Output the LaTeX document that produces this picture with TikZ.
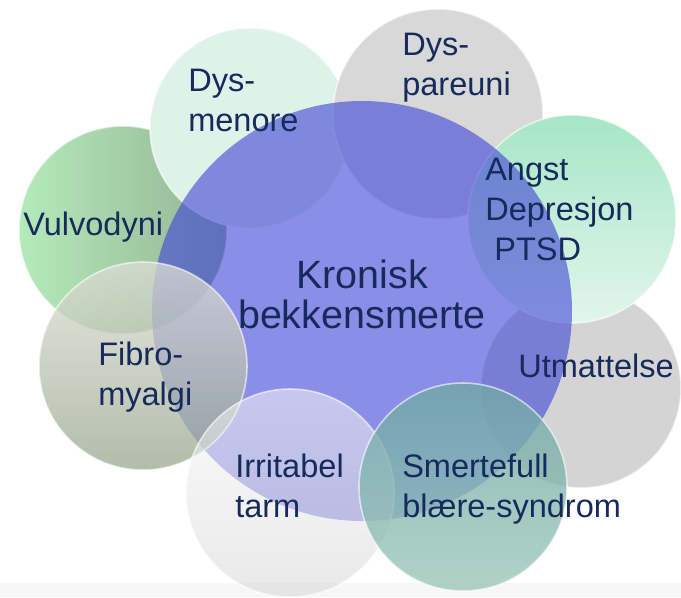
\documentclass[tikz,border=0pt]{standalone}
\usepackage{fontspec}
\setmainfont{Liberation Sans}

\definecolor{navy}{RGB}{22,42,92}
\definecolor{kroniskblue}{RGB}{62,67,213}
\definecolor{vulvoA}{RGB}{180,234,186}
\definecolor{vulvoB}{RGB}{148,180,148}
\definecolor{mint}{RGB}{222,242,234}
\definecolor{lightgrey}{RGB}{216,216,216}
\definecolor{angstA}{RGB}{166,230,198}
\definecolor{angstB}{RGB}{226,246,236}
\definecolor{fibroA}{RGB}{222,222,212}
\definecolor{fibroB}{RGB}{152,166,142}
\definecolor{irriA}{RGB}{248,248,248}
\definecolor{irriB}{RGB}{214,214,214}
\definecolor{smerteA}{RGB}{112,168,168}
\definecolor{smerteB}{RGB}{156,199,184}
\definecolor{strip}{RGB}{247,247,247}

\tikzset{
  rim/.style={draw=white, draw opacity=0.6, line width=1.2},
  sidetext/.style={anchor=base west, align=left, inner sep=0pt, text=navy,
    font=\fontsize{24.4}{30}\selectfont},
  maintext/.style={anchor=base, align=center, inner sep=0pt, text=navy,
    font=\fontsize{29.6}{30}\selectfont}
}

\begin{document}
\begin{tikzpicture}[x=0.75pt,y=-0.75pt]
%\draw [lightgray, ultra thin] (0,0) grid [step=50] (681,597);
\useasboundingbox (0,0) rectangle (681,597);

\fill [strip] (0,583) rectangle (681,597);

% outer circles below the centre
\shade [left color=vulvoA, right color=vulvoB, rim] (123,230) circle [radius=104];
\fill [mint, rim] (250,128) circle [radius=100];
\fill [lightgrey, rim] (438,114) circle [radius=105];
\fill [lightgrey!98!black, rim] (581,388) circle [radius=100];
\shade [top color=angstA, bottom color=angstB, rim] (572,219) circle [radius=104];

% centre
\fill [kroniskblue, fill opacity=0.6] (362,311) circle [radius=210];

% outer circles above the centre
\shade [top color=fibroA, bottom color=fibroB, fill opacity=0.75, rim] (143,366) circle [radius=104];
\shade [top color=irriA, bottom color=irriB, fill opacity=0.55, rim] (290,493) circle [radius=104];
\shade [top color=smerteA, bottom color=smerteB, fill opacity=0.8, rim] (463,487) circle [radius=104];

% texts (base = last line)
\node [maintext] (kronisk) at (362,328) {Kronisk\\bekkensmerte};
\node [sidetext] (dysmenore) at (188,131) {Dys-\\menore};
\node [sidetext] (dyspareuni) at (402,95) {Dys-\\pareuni};
\node [sidetext] (angst) at (485,260) {Angst\\Depresjon\\\ PTSD};
\node [sidetext] (vulvodyni) at (23,235) {Vulvodyni};
\node [sidetext] (fibro) at (98,405) {Fibro-\\myalgi};
\node [sidetext] (utmattelse) at (518,377) {Utmattelse};
\node [sidetext] (irritabel) at (235,517) {Irritabel\\tarm};
\node [sidetext] (smertefull) at (402,517) {Smertefull\\blære-syndrom};
\end{tikzpicture}
\end{document}
